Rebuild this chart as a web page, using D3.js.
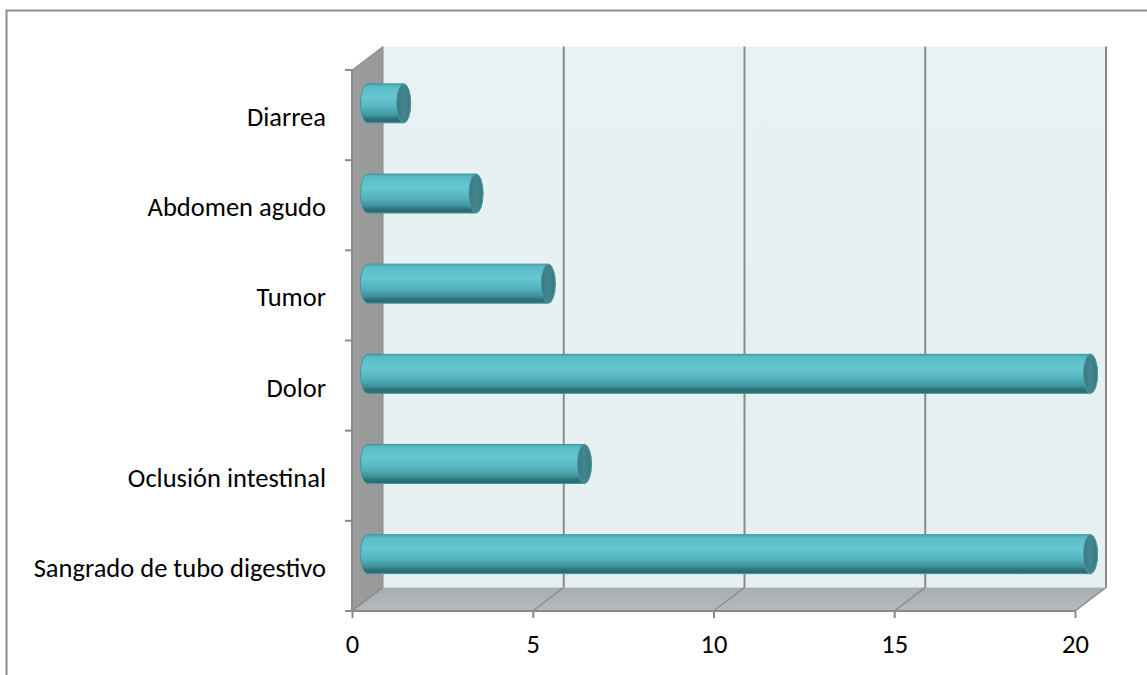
<!DOCTYPE html>
<html>
<head>
<meta charset="utf-8">
<script src="https://cdn.jsdelivr.net/npm/d3@7"></script>
<style>
body { margin: 0; background: #fff; }
text { font-family: Carlito, "Open Sans", sans-serif; fill: #000; }
</style>
</head>
<body>
<svg id="chart" width="1147" height="675"></svg>
<script>
// data, bottom to top as in the picture
var categories = ["Sangrado de tubo digestivo", "Oclusión intestinal", "Dolor", "Tumor", "Abdomen agudo", "Diarrea"];
var values = [20, 6, 20, 5, 3, 1];
var xTicks = [0, 5, 10, 15, 20];

var DX = 31, DY = -23.5;   // depth of the 3d box
var FONT = 26.5;
var svg = d3.select("#chart");

var x = d3.scaleLinear().domain([0, 20]).range([352, 1075]);
var y = d3.scaleBand().domain(categories.slice().reverse()).range([70, 611]);

var defs = svg.append("defs");
function grad(id, stops, vertical) {
	var g = defs.append("linearGradient").attr("id", id)
		.attr("x1", 0).attr("y1", 0)
		.attr("x2", vertical ? 0 : 1).attr("y2", vertical ? 1 : 0);
	stops.forEach(function(s) {
		g.append("stop").attr("offset", s[0]).attr("stop-color", s[1]);
	});
}
grad("wallGrad", [[0, "#e9f2f2"], [1, "#e6f0f0"]], true);
grad("sideGrad", [[0, "#9c9c9c"], [1, "#979999"]], false);
grad("floorGrad", [[0, "#a9adaf"], [1, "#b6babc"]], true);
grad("barGrad", [[0, "#4aa6b0"], [0.08, "#5bbcc7"], [0.35, "#65c7d1"], [0.62, "#55b3be"], [0.82, "#3e929b"], [0.9, "#2f7078"], [1, "#2c6a71"]], true);
grad("capGrad", [[0, "#3a787f"], [0.5, "#44868e"], [1, "#3a767d"]], false);

// frame
svg.append("path")
	.attr("d", "M6.5,675 V10.5 H1147")
	.attr("fill", "none").attr("stroke", "#8c8c8c").attr("stroke-width", 2);

var x0 = x(0), x20 = x(20), yTop = y.range()[0], yBot = y.range()[1];

// back wall
svg.append("rect")
	.attr("x", x0 + DX).attr("y", yTop + DY)
	.attr("width", x20 - x0).attr("height", yBot - yTop)
	.attr("fill", "url(#wallGrad)");

// side wall
svg.append("path")
	.attr("d", "M" + x0 + "," + yTop + " l" + DX + "," + DY + " V" + (yBot + DY) + " L" + x0 + "," + yBot + " Z")
	.attr("fill", "url(#sideGrad)")
	.attr("stroke", "#8a8a8a").attr("stroke-width", 1);

// floor
svg.append("path")
	.attr("d", "M" + x0 + "," + yBot + " l" + DX + "," + DY + " H" + (x20 + DX) + " L" + x20 + "," + yBot + " Z")
	.attr("fill", "url(#floorGrad)");

// grid lines on the back wall and the floor
svg.selectAll(".grid").data(xTicks.slice(1)).enter().append("line")
	.attr("class", "grid")
	.attr("x1", function(d) { return x(d) + DX; })
	.attr("x2", function(d) { return x(d) + DX; })
	.attr("y1", yTop + DY).attr("y2", yBot + DY)
	.attr("stroke", "#8a8a8a").attr("stroke-width", 2);
svg.selectAll(".fgrid").data(xTicks).enter().append("line")
	.attr("class", "fgrid")
	.attr("x1", function(d) { return x(d); })
	.attr("x2", function(d) { return x(d) + DX; })
	.attr("y1", yBot).attr("y2", yBot + DY)
	.attr("stroke", "#8a8a8a").attr("stroke-width", 1.5);

// axes
var xAxis = svg.append("g").attr("transform", "translate(0," + yBot + ")")
	.call(d3.axisBottom(x).tickValues(xTicks).tickSize(7).tickPadding(16));
xAxis.select(".domain").attr("stroke", "#8a8a8a").attr("stroke-width", 2)
	.attr("d", "M" + x0 + ",0H" + x20);
xAxis.selectAll(".tick line").attr("stroke", "#8a8a8a").attr("stroke-width", 2);
xAxis.selectAll("text").attr("font-size", FONT).attr("font-family", null);

var yAxis = svg.append("g").attr("transform", "translate(" + x0 + ",0)");
yAxis.append("line").attr("x1", 0).attr("x2", 0).attr("y1", yTop).attr("y2", yBot)
	.attr("stroke", "#8a8a8a").attr("stroke-width", 2);
var bounds = y.domain().map(function(d) { return y(d); }).concat([yBot]);
yAxis.selectAll(".ytick").data(bounds).enter().append("line")
	.attr("x1", -7).attr("x2", 0)
	.attr("y1", function(d) { return d; }).attr("y2", function(d) { return d; })
	.attr("stroke", "#8a8a8a").attr("stroke-width", 2);
yAxis.selectAll(".ylab").data(categories).enter().append("text")
	.attr("x", -26)
	.attr("y", function(d) { return y(d) + y.bandwidth() / 2 + 2; })
	.attr("text-anchor", "end")
	.attr("dominant-baseline", "central")
	.attr("font-size", FONT)
	.text(function(d) { return d; });

// cylinders, sitting in the middle of the depth
var RY = 19.5, RX = 7;
var bars = svg.selectAll(".bar").data(categories).enter().append("g").attr("class", "bar");
bars.append("path")
	.attr("d", function(d, i) {
		var a = x(0) + DX / 2, b = x(values[i]) + DX / 2;
		var cy = y(d) + y.bandwidth() / 2 + DY / 2;
		return "M" + a + "," + (cy - RY) +
			" A" + RX + "," + RY + " 0 0,0 " + a + "," + (cy + RY) +
			" L" + b + "," + (cy + RY) +
			" A" + RX + "," + RY + " 0 0,0 " + b + "," + (cy - RY) + " Z";
	})
	.attr("fill", "url(#barGrad)")
	.attr("stroke", "#3f97a0").attr("stroke-width", 1);
bars.append("ellipse")
	.attr("cx", function(d, i) { return x(values[i]) + DX / 2; })
	.attr("cy", function(d) { return y(d) + y.bandwidth() / 2 + DY / 2; })
	.attr("rx", RX).attr("ry", RY)
	.attr("fill", "url(#capGrad)")
	.attr("stroke", "#4a9aa2").attr("stroke-width", 1);
</script>
</body>
</html>
